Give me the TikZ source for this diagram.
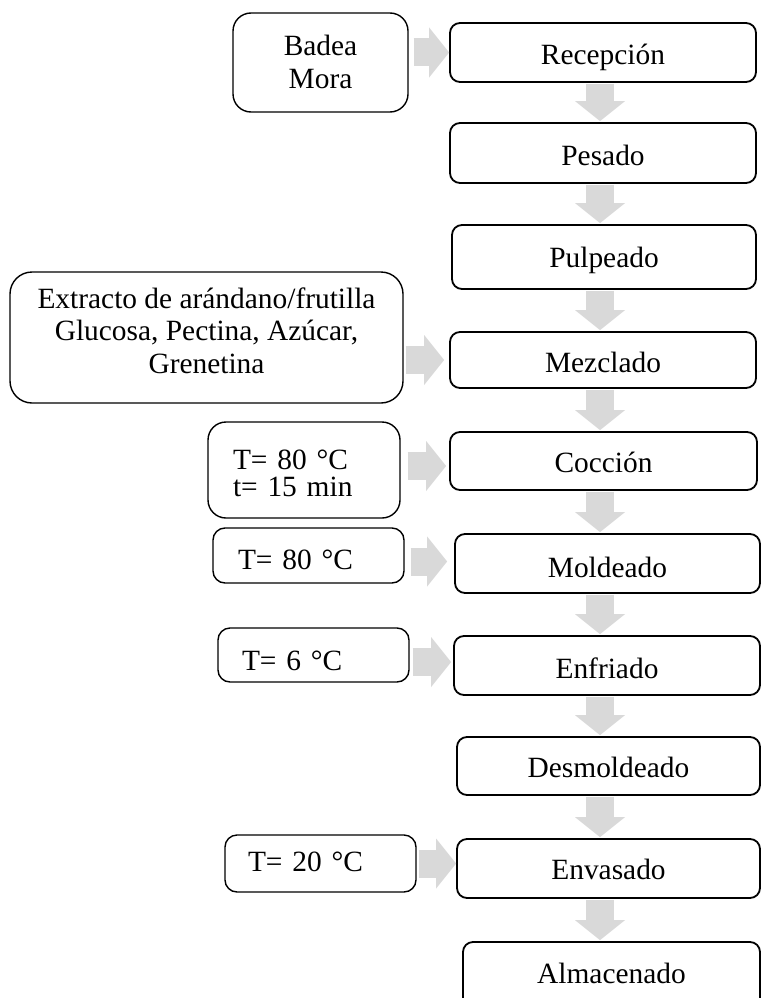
\documentclass[tikz,border=0pt]{standalone}
\usepackage{fontspec}
\setmainfont{Liberation Serif}
\usetikzlibrary{arrows.meta,calc}
\definecolor{agray}{HTML}{D9D9D9}
\newcommand{\myTop}[1]{\rule{0pt}{#1pt}}
\newcommand{\myBot}[1]{\rule[-#1pt]{0pt}{#1pt}}
\begin{document}
\begin{tikzpicture}[x=1pt,y=-1pt,
  mainbox/.style={draw, line width=1.8pt, rounded corners=10pt, inner sep=0pt, align=center,
    font=\fontsize{29.4}{33}\selectfont},
  sidebox/.style={draw, line width=1.4pt, inner sep=0pt, align=center,
    font=\fontsize{29.4}{33}\selectfont},
  tbox/.style={draw, line width=1.4pt, rounded corners=12pt, inner ysep=0pt, align=left,
    font=\fontsize{29.4}{33}\selectfont},
  garrow/.style={draw=agray, line width=28pt, -{Triangle[width=50pt,length=20pt,line width=0pt]}},
  varrow/.style={garrow, shorten <=1pt, shorten >=1pt}
]
\path[fill=white, use as bounding box] (0,0) rectangle (762,998);

% main column
\node[mainbox, minimum width=306pt, minimum height=59pt] (rec) at (603,52.5) {\myTop{33}Recepción\myBot{8}};
\node[mainbox, minimum width=306pt, minimum height=60pt] (pes) at (603,153) {\myTop{33}Pesado\myBot{8}};
\node[mainbox, minimum width=304pt, minimum height=64pt] (pul) at (604,257) {\myTop{28}Pulpeado\myBot{8}};
\node[mainbox, minimum width=306pt, minimum height=56pt] (mez) at (603,360) {\myTop{33}Mezclado\myBot{8}};
\node[mainbox, minimum width=307pt, minimum height=58pt] (coc) at (603.5,461) {\myTop{31}Cocción\myBot{8}};
\node[mainbox, minimum width=305pt, minimum height=59pt] (mol) at (607.5,563.5) {\myTop{35}Moldeado\myBot{8}};
\node[mainbox, minimum width=306pt, minimum height=59pt] (enf) at (607,665.5) {\myTop{33}Enfriado\myBot{8}};
\node[mainbox, minimum width=303pt, minimum height=58pt] (des) at (608.5,766) {\myTop{30}Desmoldeado\myBot{8}};
\node[mainbox, minimum width=303pt, minimum height=59pt] (env) at (608.5,868.5) {\myTop{30}Envasado\myBot{8}};
\node[mainbox, minimum width=297pt, minimum height=80pt] (alm) at (611.5,982) {\myTop{30}Almacenado\myBot{28}};

% side inputs
\node[sidebox, rounded corners=18pt, minimum width=175pt, minimum height=99pt] (bad) at (320.5,62.5)
  {\myTop{27}Badea\\Mora\myBot{8}};
\node[sidebox, rounded corners=22pt, minimum width=393pt, minimum height=131pt, font=\fontsize{29.4}{32.5}\selectfont] (ext) at (206.5,337.5)
  {\myTop{22}Extracto de arándano/frutilla\\Glucosa, Pectina, Azúcar,\\Grenetina\myBot{16}};
\node[tbox, rounded corners=18pt, inner xsep=25pt, text width=142pt, minimum height=96pt, font=\fontsize{29.4}{27}\selectfont] (t1) at (304,470)
  {\myTop{33}T= 80 °C\\t= 15 min\myBot{8}};
\node[tbox, inner xsep=25pt, text width=141pt, minimum height=55pt] (t2) at (308.5,555.5)
  {\myTop{35}T= 80 °C\myBot{8}};
\node[tbox, inner xsep=24pt, text width=143pt, minimum height=54pt] (t3) at (313.5,655)
  {\myTop{38}T= 6 °C\myBot{8}};
\node[tbox, inner xsep=23pt, text width=145pt, minimum height=57pt] (t4) at (320.5,863.5)
  {\myTop{23}T= 20 °C\myBot{8}};

% vertical block arrows
\coordinate (ax) at (600,0);
\draw[varrow] (rec.south -| ax) -- (pes.north -| ax);
\draw[varrow] (pes.south -| ax) -- (pul.north -| ax);
\draw[varrow] (pul.south -| ax) -- (mez.north -| ax);
\draw[varrow] (mez.south -| ax) -- (coc.north -| ax);
\draw[varrow] (coc.south -| ax) -- (mol.north -| ax);
\draw[varrow] (mol.south -| ax) -- (enf.north -| ax);
\draw[varrow] (enf.south -| ax) -- (des.north -| ax);
\draw[varrow] (des.south -| ax) -- (env.north -| ax);
\draw[varrow] (env.south -| ax) -- (alm.north -| ax);

% horizontal block arrows
\draw[garrow, shorten <=5pt, shorten >=0pt] (bad.east |- rec.west) -- (rec.west);
\draw[garrow, shorten <=2pt, shorten >=5pt] (ext.east |- mez.west) -- (mez.west);
\draw[garrow, shorten <=7pt, shorten >=3pt] (t1.east |- 0,466) -- (coc.west |- 0,466);
\draw[garrow, shorten <=6pt, shorten >=7pt] (t2.east |- 0,561.5) -- (mol.west |- 0,561.5);
\draw[garrow, shorten <=3pt, shorten >=2pt] (t3.east |- 0,662) -- (enf.west |- 0,662);
\draw[garrow, shorten <=2pt, shorten >=0pt] (t4.east) -- (env.west |- t4.east);
\end{tikzpicture}
\end{document}
